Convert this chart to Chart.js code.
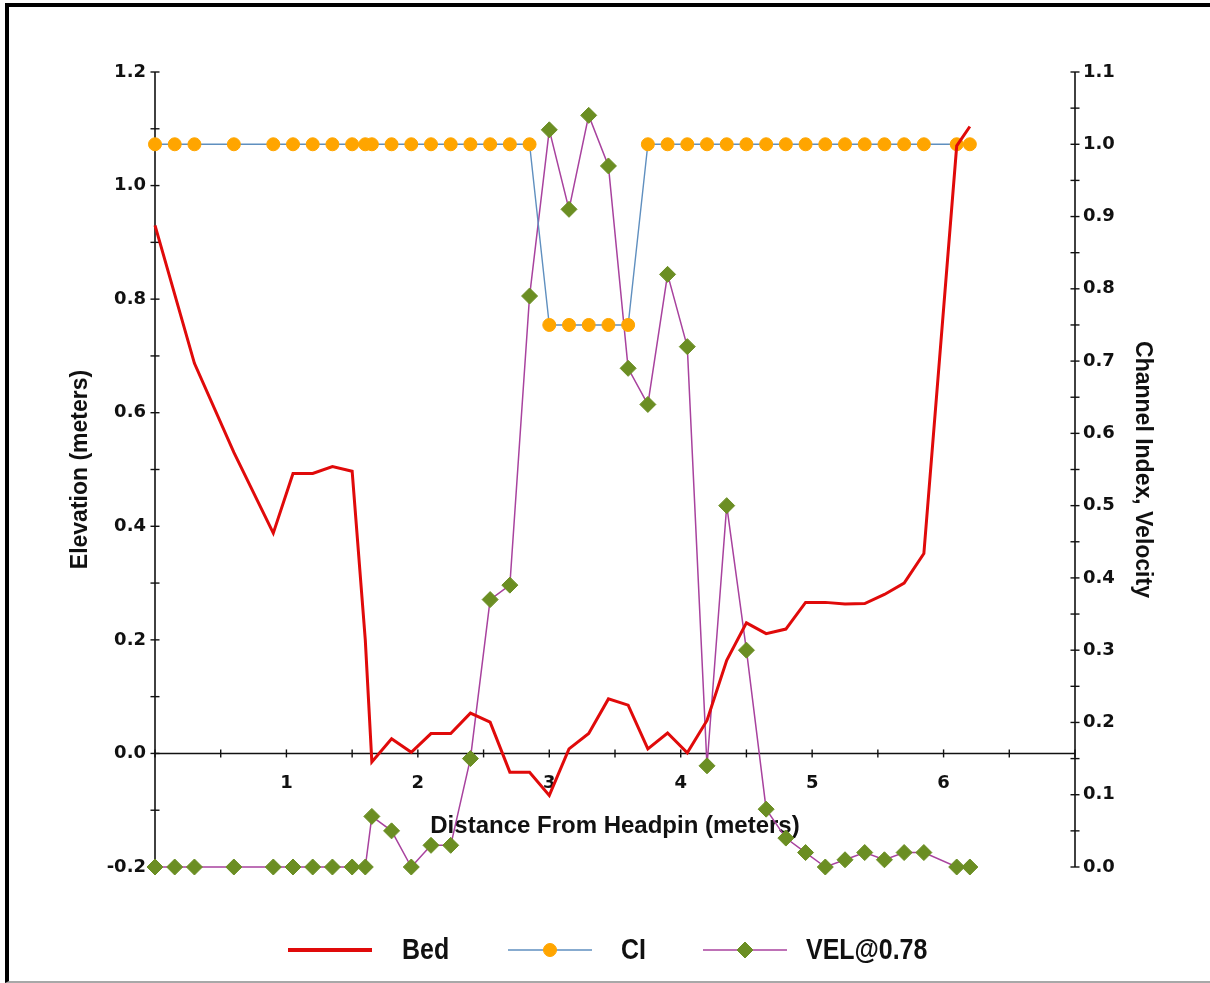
<!DOCTYPE html>
<html>
<head>
<meta charset="utf-8">
<script src="https://cdn.jsdelivr.net/npm/chart.js@4/dist/chart.umd.min.js"></script>
<style>
  html, body { margin: 0; padding: 0; background: #fff; width: 1210px; height: 983px; overflow: hidden; }
  #frame { position: absolute; left: 5px; top: 3px; width: 1300px; height: 974px;
           border-top: 4px solid #000; border-left: 4px solid #000; border-bottom: 2px solid #a8a8a8; }
  #c { position: absolute; left: 0; top: 0; }
</style>
</head>
<body>
<div id="frame"></div>
<canvas id="c" width="1210" height="983"></canvas>
<script>
// ---- data ----
const stations = [0, 0.15, 0.3, 0.6, 0.9, 1.05, 1.2, 1.35, 1.5, 1.6, 1.65, 1.8, 1.95, 2.1, 2.25, 2.4, 2.55, 2.7, 2.85,
                  3.0, 3.15, 3.3, 3.45, 3.6, 3.75, 3.9, 4.05, 4.2, 4.35, 4.5, 4.65, 4.8, 4.95, 5.1, 5.25, 5.4, 5.55,
                  5.7, 5.85, 6.1, 6.2];
const ciValues = [1, 1, 1, 1, 1, 1, 1, 1, 1, 1, 1, 1, 1, 1, 1, 1, 1, 1, 1,
                  0.75, 0.75, 0.75, 0.75, 0.75,
                  1, 1, 1, 1, 1, 1, 1, 1, 1, 1, 1, 1, 1, 1, 1, 1, 1];
const velValues = [0, 0, 0, 0, 0, 0, 0, 0, 0, 0, 0.07, 0.05, 0, 0.03, 0.03, 0.15, 0.37, 0.39, 0.79,
                   1.02, 0.91, 1.04, 0.97, 0.69, 0.64, 0.82, 0.72, 0.14, 0.50, 0.30, 0.08, 0.04, 0.02, 0.0,
                   0.01, 0.02, 0.01, 0.02, 0.02, 0, 0];
const bedX = [0, 0.3, 0.6, 0.9, 1.05, 1.2, 1.35, 1.5, 1.6, 1.65, 1.8, 1.95, 2.1, 2.25, 2.4, 2.55, 2.7, 2.85,
              3.0, 3.15, 3.3, 3.45, 3.6, 3.75, 3.9, 4.05, 4.2, 4.35, 4.5, 4.65, 4.8, 4.95, 5.1, 5.25, 5.4,
              5.55, 5.7, 5.85, 6.1, 6.2];
const bedY = [0.93, 0.687, 0.53, 0.388, 0.493, 0.493, 0.505, 0.497, 0.20, -0.015, 0.026, 0.002, 0.035, 0.035,
              0.071, 0.055, -0.033, -0.033, -0.074, 0.008, 0.035, 0.096, 0.085, 0.008, 0.036, 0.001, 0.058,
              0.164, 0.23, 0.211, 0.219, 0.266, 0.266, 0.263, 0.264, 0.28, 0.30, 0.352, 1.07, 1.104];

const seriesNames = ['Bed', 'CI', 'VEL@0.78'];
const xTickLabels = ['1', '2', '3', '4', '5', '6'];
const yLeftTickLabels = ['-0.2', '0.0', '0.2', '0.4', '0.6', '0.8', '1.0', '1.2'];
const yRightTickLabels = ['0.0', '0.1', '0.2', '0.3', '0.4', '0.5', '0.6', '0.7', '0.8', '0.9', '1.0', '1.1'];
const axisTitles = { x: 'Distance From Headpin (meters)', yL: 'Elevation (meters)', yR: 'Channel Index, Velocity' };

// ---- styling ----
const RED = '#e00a0a', BLUE = '#5f8fbf', ORANGE = '#ffa500', MAGENTA = '#a8429e', GREEN = '#6b8e23';
const tickFont = { family: 'DejaVu Sans', weight: 'bold', size: 18 };
const titleFont = { family: 'Liberation Sans', weight: 'bold', size: 23 };

function fmt1(v) { if (Math.abs(v) < 1e-9) v = 0; return v.toFixed(1); }

const axesPlugin = {
  id: 'refAxes',
  beforeDatasetsDraw(chart) {
    const { ctx, chartArea: a, scales } = chart;
    const x = scales.x, yL = scales.yL, yR = scales.yR;
    const y0 = yL.getPixelForValue(0);
    ctx.save();
    ctx.strokeStyle = '#111';
    ctx.lineWidth = 1.6;
    const ln = (x1, y1, x2, y2) => { ctx.beginPath(); ctx.moveTo(x1, y1); ctx.lineTo(x2, y2); ctx.stroke(); };
    ln(a.left, a.top, a.left, a.bottom);
    ln(a.right, a.top, a.right, a.bottom);
    ln(a.left, y0, a.right, y0);
    ctx.lineWidth = 1.4;
    yL.ticks.forEach(t => { const p = yL.getPixelForValue(t.value); ln(a.left - 4.5, p, a.left + 4.5, p); });
    yR.ticks.forEach(t => { const p = yR.getPixelForValue(t.value); ln(a.right - 4.5, p, a.right + 4.5, p); });
    x.ticks.forEach(t => { const p = x.getPixelForValue(t.value); ln(p, y0 - 4, p, y0 + 4); });
    ctx.restore();
  }
};

const legendPlugin = {
  id: 'refLegend',
  afterDraw(chart) {
    const { ctx } = chart;
    const ds = chart.data.datasets;
    const yc = 950;
    const items = [
      { x1: 288, x2: 372, tx: 402 },
      { x1: 508, x2: 592, tx: 621 },
      { x1: 703, x2: 787, tx: 806 }
    ];
    ctx.save();
    items.forEach((it, i) => {
      const d = ds[i];
      ctx.strokeStyle = d.borderColor;
      ctx.lineWidth = i === 0 ? 4 : 1.6;
      ctx.beginPath(); ctx.moveTo(it.x1, yc); ctx.lineTo(it.x2, yc); ctx.stroke();
      if (d.pointRadius > 0) {
        ctx.fillStyle = d.pointBackgroundColor;
        ctx.strokeStyle = d.pointBorderColor;
        ctx.lineWidth = 1;
        Chart.helpers.drawPoint(ctx, { pointStyle: d.pointStyle, radius: d.pointRadius, borderWidth: 1, rotation: 0 },
                                (it.x1 + it.x2) / 2, yc);
      }
      ctx.fillStyle = '#111';
      ctx.font = 'bold 29px "Liberation Sans", Arial, sans-serif';
      ctx.textBaseline = 'middle';
      ctx.textAlign = 'left';
      ctx.save();
      ctx.translate(it.tx, yc + 1);
      ctx.scale(0.86, 1);
      ctx.fillText(d.label, 0, 0);
      ctx.restore();
    });
    ctx.restore();
  }
};

const chart = new Chart(document.getElementById('c'), {
  type: 'line',
  data: {
    datasets: [
      {
        label: seriesNames[0],
        data: bedX.map((v, i) => ({ x: v, y: bedY[i] })),
        yAxisID: 'yL',
        borderColor: RED, backgroundColor: RED,
        borderWidth: 3, pointRadius: 0, tension: 0, clip: false
      },
      {
        label: seriesNames[1],
        data: stations.map((v, i) => ({ x: v, y: ciValues[i] })),
        yAxisID: 'yR',
        borderColor: BLUE, borderWidth: 1.4,
        pointStyle: 'circle', pointRadius: 6.5,
        pointBackgroundColor: ORANGE, pointBorderColor: ORANGE, pointBorderWidth: 1,
        tension: 0, clip: false
      },
      {
        label: seriesNames[2],
        data: stations.map((v, i) => ({ x: v, y: velValues[i] })),
        yAxisID: 'yR',
        borderColor: MAGENTA, borderWidth: 1.5,
        pointStyle: 'rectRot', pointRadius: 8,
        pointBackgroundColor: GREEN, pointBorderColor: GREEN, pointBorderWidth: 1,
        tension: 0, clip: false
      }
    ]
  },
  options: {
    responsive: false,
    animation: false,
    devicePixelRatio: 1,
    layout: { padding: { left: 0, right: 0, top: 72, bottom: 116 } },
    plugins: { legend: { display: false }, tooltip: { enabled: false } },
    scales: {
      x: {
        type: 'linear',
        position: { yL: 0 },
        min: 0, max: 7,
        grid: { display: false, drawTicks: false },
        border: { display: false },
        ticks: {
          stepSize: 0.5, autoSkip: false, maxRotation: 0, padding: 19,
          color: '#111', font: tickFont,
          callback: (v) => { const s = String(v); return xTickLabels.includes(s) ? s : ''; }
        },
        title: { display: true, text: axisTitles.x, color: '#111',
                 font: { family: 'Liberation Sans', weight: 'bold', size: 24 },
                 padding: { top: 0, bottom: 12.6 } },
        afterFit: (s) => { s.height = 100; }
      },
      yL: {
        type: 'linear',
        position: 'left',
        min: -0.2, max: 1.2,
        grid: { display: false, drawTicks: false },
        border: { display: false },
        ticks: {
          stepSize: 0.1, autoSkip: false, padding: 9, color: '#111', font: tickFont,
          callback: (v) => { const s = fmt1(v); return yLeftTickLabels.includes(s) ? s : ''; }
        },
        title: { display: true, text: axisTitles.yL, color: '#111', font: titleFont,
                 padding: { top: 67, bottom: 0 } },
        afterFit: (s) => { s.width = 155; }
      },
      yR: {
        type: 'linear',
        position: 'right',
        min: 0, max: 1.1,
        grid: { display: false, drawTicks: false },
        border: { display: false },
        ticks: {
          stepSize: 0.05, autoSkip: false, padding: 8, color: '#111', font: tickFont,
          callback: (v) => { const s = fmt1(v); return (Math.abs(v * 10 - Math.round(v * 10)) < 1e-6 && yRightTickLabels.includes(s)) ? s : ''; }
        },
        title: { display: true, text: axisTitles.yR, color: '#111', font: titleFont,
                 padding: { top: 54, bottom: 0 } },
        afterFit: (s) => { s.width = 135; }
      }
    }
  },
  plugins: [axesPlugin, legendPlugin]
});
</script>
</body>
</html>
